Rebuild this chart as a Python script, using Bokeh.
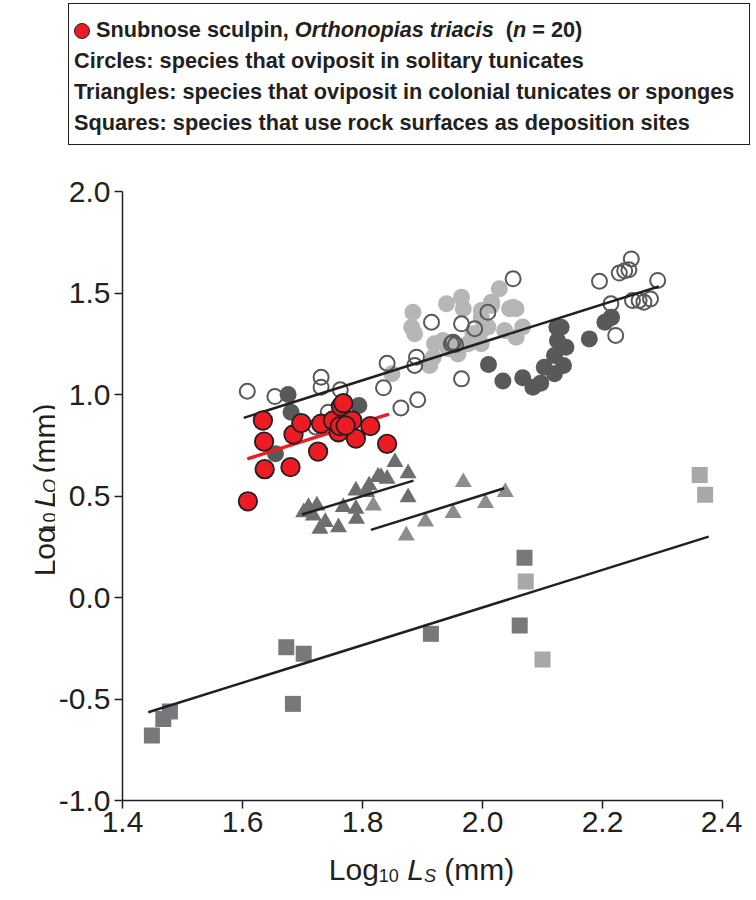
import math
from bokeh.plotting import figure
from bokeh.models import Div, Range1d, FixedTicker
from bokeh.layouts import column, row
from bokeh.core.properties import value
from bokeh.embed import file_html
from bokeh.resources import INLINE

# ---------------- data ----------------
red_x = [1.634, 1.636, 1.637, 1.609, 1.680, 1.685, 1.698, 1.726, 1.731, 1.751,
         1.764, 1.768, 1.760, 1.762, 1.779, 1.783, 1.789, 1.813, 1.841, 1.772]
red_y = [0.872, 0.768, 0.632, 0.474, 0.642, 0.803, 0.859, 0.719, 0.856, 0.872,
         0.941, 0.957, 0.814, 0.844, 0.864, 0.872, 0.783, 0.844, 0.757, 0.847]

dark_x = [1.655, 1.676, 1.681, 1.794, 2.010, 2.034, 2.067, 2.084, 2.097, 2.103,
          2.120, 2.135, 2.124, 2.125, 2.139, 2.120, 2.178, 2.204, 2.215, 2.131]
dark_y = [0.708, 1.000, 0.913, 0.946, 1.148, 1.066, 1.082, 1.036, 1.056, 1.134,
          1.102, 1.143, 1.331, 1.266, 1.233, 1.192, 1.274, 1.356, 1.380, 1.331]

light_x = [2.028, 1.884, 1.882, 1.887, 1.940, 1.965, 1.968, 1.998, 2.015, 2.045,
           2.056, 2.037, 2.056, 2.067, 1.998, 1.998, 1.920, 1.918, 1.912, 1.943,
           1.959, 1.976, 1.984, 1.849, 1.951, 1.934, 2.009, 1.998, 2.015, 2.051]
light_y = [1.521, 1.405, 1.331, 1.299, 1.447, 1.479, 1.422, 1.414, 1.438, 1.422,
           1.422, 1.315, 1.282, 1.332, 1.315, 1.250, 1.250, 1.184, 1.143, 1.225,
           1.200, 1.250, 1.299, 1.102, 1.250, 1.266, 1.332, 1.381, 1.455, 1.430]

open_x = [1.608, 1.654, 1.731, 1.731, 1.763, 1.743, 1.722, 1.835, 1.841, 1.864,
          1.887, 1.892, 1.890, 2.051, 1.915, 1.965, 1.987, 2.009, 1.948, 1.951,
          1.955, 1.965, 2.195, 2.228, 2.244, 2.248, 2.292, 2.214, 2.214, 2.222,
          2.250, 2.261, 2.269, 2.280, 2.237]
open_y = [1.016, 0.990, 1.085, 1.036, 1.023, 0.913, 0.840, 1.033, 1.154, 0.934,
          1.143, 0.974, 1.184, 1.570, 1.356, 1.348, 1.324, 1.405, 1.250, 1.258,
          1.246, 1.077, 1.558, 1.598, 1.614, 1.668, 1.562, 1.447, 1.378, 1.291,
          1.463, 1.463, 1.455, 1.471, 1.610]

tri_dark_x = [1.854, 1.876, 1.826, 1.831, 1.841, 1.811, 1.789, 1.807, 1.768, 1.789,
              1.790, 1.760, 1.710, 1.724, 1.702, 1.718, 1.738, 1.729, 1.876]
tri_dark_y = [0.667, 0.612, 0.596, 0.593, 0.585, 0.552, 0.527, 0.519, 0.445, 0.437,
              0.388, 0.346, 0.445, 0.453, 0.420, 0.404, 0.371, 0.338, 0.494]
tri_light_x = [1.818, 1.968, 2.038, 2.005, 1.951, 1.905, 1.873]
tri_light_y = [0.453, 0.568, 0.519, 0.465, 0.416, 0.374, 0.305]

sq_dark_x = [1.449, 1.468, 1.479, 1.673, 1.702, 1.684, 1.914, 2.070, 2.062]
sq_dark_y = [-0.680, -0.598, -0.562, -0.245, -0.277, -0.524, -0.179, 0.196, -0.138]
sq_light_x = [2.072, 2.100, 2.362, 2.371]
sq_light_y = [0.079, -0.305, 0.604, 0.506]

# regression lines (end points)
circ_fit_x = [1.602, 2.294]
circ_fit_y = [0.885, 1.532]
red_fit_x = [1.608, 1.844]
red_fit_y = [0.683, 0.903]
tri_fit1_x = [1.699, 1.885]
tri_fit1_y = [0.409, 0.576]
tri_fit2_x = [1.814, 2.036]
tri_fit2_y = [0.333, 0.538]
sq_fit_x = [1.443, 2.377]
sq_fit_y = [-0.565, 0.300]

x_ticks = [1.4, 1.6, 1.8, 2.0, 2.2, 2.4]
y_ticks = [-1.0, -0.5, 0.0, 0.5, 1.0, 1.5, 2.0]

# title pieces: (text, size px, style, is_subscript); " " pieces are gaps
x_title = [("Log", 30, "normal", False), ("10", 18, "normal", True), (" ", 30, "normal", False),
           ("L", 30, "italic", False), ("S", 18, "italic", True), (" ", 30, "normal", False),
           ("(mm)", 30, "normal", False)]
y_title = [("Log", 30, "normal", False), ("10", 18, "normal", True), (" ", 30, "normal", False),
           ("L", 30, "italic", False), ("O", 18, "italic", True), (" ", 30, "normal", False),
           ("(mm)", 30, "normal", False)]

# ---------------- styling ----------------
FONT = "Liberation Sans"
INK = "#231f20"
X0, X1, Y0, Y1 = 1.4, 2.4, -1.0, 2.0
LEG_H = 150
YT_W = 55                 # width of the y-title strip
FRAME_W, FRAME_H = 602, 609
BL, BR, BT, BB = 65, 20, 41, 45
P_W, P_H = BL + FRAME_W + BR, BT + FRAME_H + BB
XT_H = 50

p = figure(width=P_W, height=P_H,
           x_range=Range1d(X0, X1), y_range=Range1d(Y0, Y1),
           output_backend="svg", toolbar_location=None,
           min_border_left=BL, min_border_right=BR,
           min_border_top=BT, min_border_bottom=BB)
p.outline_line_color = None
p.xgrid.visible = False
p.ygrid.visible = False

for ax in (p.xaxis[0], p.yaxis[0]):
    ax.axis_line_color = INK
    ax.axis_line_width = 1.5
    ax.major_tick_line_color = INK
    ax.major_tick_line_width = 1.5
    ax.major_tick_out = 8
    ax.major_tick_in = 0
    ax.minor_tick_line_color = None
    ax.major_label_text_font = FONT
    ax.major_label_text_font_size = "30px"
    ax.major_label_text_color = INK
p.yaxis.major_label_standoff = 4
p.xaxis.major_label_standoff = 3
p.xaxis.ticker = FixedTicker(ticks=x_ticks)
p.yaxis.ticker = FixedTicker(ticks=y_ticks)
p.xaxis.major_label_overrides = {t: f"{t:.1f}" for t in x_ticks}
p.yaxis.major_label_overrides = {t: f"{t:.1f}" for t in y_ticks}

# markers
p.scatter(light_x, light_y, marker="circle", size=17, fill_color="#b5b6b8",
          line_color=None)
p.scatter(dark_x, dark_y, marker="circle", size=17, fill_color="#58595b",
          line_color=None)
p.scatter(open_x, open_y, marker="circle", size=15, fill_color=None,
          line_color="#58595b", line_width=2)
p.scatter(tri_dark_x, tri_dark_y, marker="triangle", size=17,
          fill_color="#6d6e71", line_color=None)
p.scatter(tri_light_x, tri_light_y, marker="triangle", size=17,
          fill_color="#8c8d90", line_color=None)
p.scatter(sq_dark_x, sq_dark_y, marker="square", size=16,
          fill_color="#77787b", line_color=None)
p.scatter(sq_light_x, sq_light_y, marker="square", size=16,
          fill_color="#a7a8ab", line_color=None)

for lx, ly in ((circ_fit_x, circ_fit_y), (tri_fit1_x, tri_fit1_y),
               (tri_fit2_x, tri_fit2_y), (sq_fit_x, sq_fit_y)):
    p.line(lx, ly, line_color=INK, line_width=2.5)
p.line(red_fit_x, red_fit_y, line_color="#ed1c24", line_width=3.5)
p.scatter(red_x, red_y, marker="circle", size=18.5, fill_color="#ed1c24",
          line_color=INK, line_width=1.8)


# ---------------- axis titles (strip figures with text glyphs) ----------------
def strip(w, h):
    f = figure(width=w, height=h, x_range=Range1d(0, w), y_range=Range1d(0, h),
               output_backend="svg", toolbar_location=None,
               x_axis_location=None, y_axis_location=None,
               min_border=0, min_border_left=0, min_border_right=0,
               min_border_top=0, min_border_bottom=0)
    f.grid.visible = False
    f.outline_line_color = None
    return f

# approximate advance widths (em) for Liberation Sans
ADV = {"L": 0.556, "o": 0.556, "g": 0.556, "1": 0.556, "0": 0.556, " ": 0.278,
       "S": 0.667, "O": 0.778, "(": 0.333, ")": 0.333, "m": 0.833}

def width_of(t, size):
    return sum(ADV.get(c, 0.556) for c in t) * size

def draw_title(f, pieces, start, base, along, sub_shift, angle):
    pos = start
    for t, size, style, sub in pieces:
        if t.strip():
            off = sub_shift if sub else 0.0
            if along == "x":
                x, y = pos, base - off
            else:
                x, y = base + off, pos
            f.text(x=[x], y=[y], text=[t], angle=angle,
                   text_font=value(FONT), text_font_size=f"{size}px",
                   text_font_style=style, text_color=INK,
                   text_align="left", text_baseline="alphabetic")
        pos += width_of(t, size)

xt = strip(YT_W + P_W, XT_H)
xt_total = sum(width_of(t, s) for t, s, _, _ in x_title)
x_center = YT_W + BL + FRAME_W / 2
draw_title(xt, x_title, x_center - xt_total / 2, XT_H - 24, "x", 6, 0.0)

yt = strip(YT_W, P_H)
yt_total = sum(width_of(t, s) for t, s, _, _ in y_title)
y_center = BB + FRAME_H / 2
draw_title(yt, y_title, y_center - yt_total / 2, YT_W - 11, "y", 5, math.pi / 2)

# ---------------- legend box ----------------
legend_html = (
    '<div style="margin:3px 0 0 68px;width:682px;height:142px;box-sizing:border-box;'
    'border:1.5px solid #231f20;font-family:\'Liberation Sans\';font-weight:bold;'
    'font-size:21.7px;color:#231f20;line-height:31px;padding:10px 0 0 5px;white-space:nowrap;">'
    '<span style="display:inline-block;width:16px;height:16px;border-radius:50%;'
    'background:#ed1c24;border:1.5px solid #231f20;vertical-align:-2px;"></span>'
    ' Snubnose sculpin, <i>Orthonopias triacis</i>&nbsp; (<i>n</i> = 20)<br>'
    'Circles: species that oviposit in solitary tunicates<br>'
    'Triangles: species that oviposit in colonial tunicates or sponges<br>'
    'Squares: species that use rock surfaces as deposition sites'
    '</div>'
)
div = Div(text=legend_html, width=YT_W + P_W, height=LEG_H, margin=(0, 0, 0, 0))

layout = column(div, row(yt, p, spacing=0), xt, spacing=0)
open("out.html", "w").write(file_html(layout, INLINE))
